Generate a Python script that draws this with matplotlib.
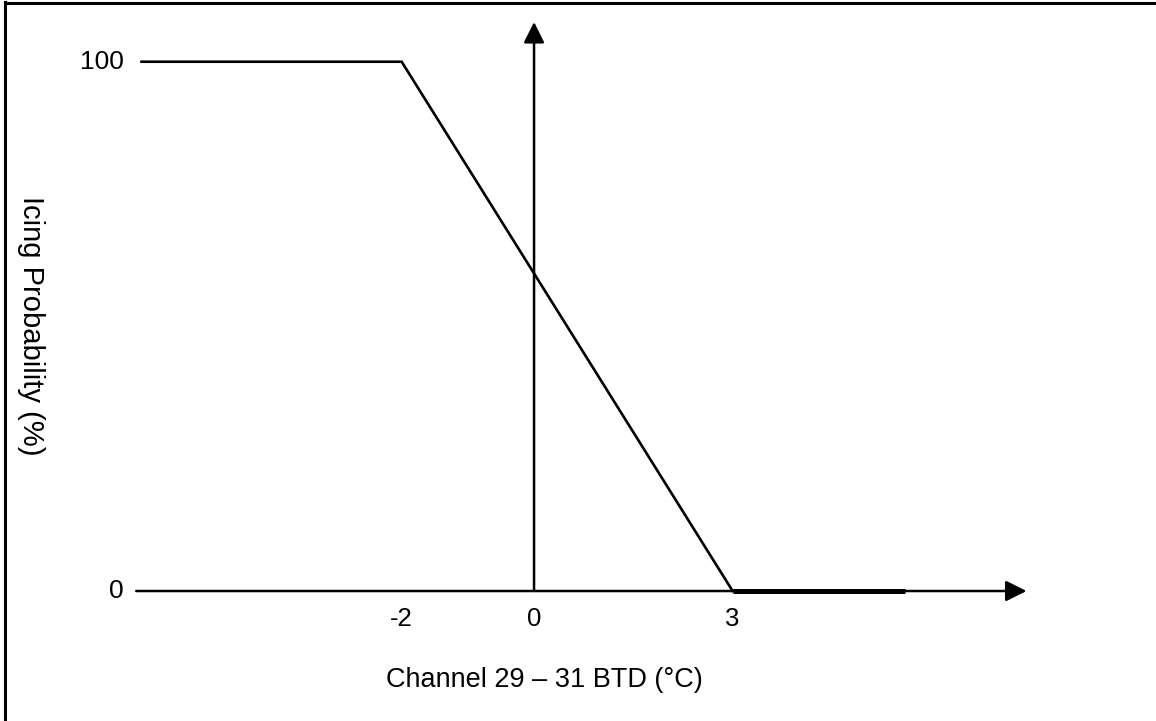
import matplotlib
matplotlib.use("Agg")
import matplotlib.pyplot as plt
from matplotlib.lines import Line2D

# Data
profile_x = [-5.93, -2, 3]
profile_y = [100, 100, 0]
zero_x = [3, 5.6]
zero_y = [0, 0]
x_tick_vals = [-2, 0, 3]
x_tick_labels = ["-2", "0", "3"]
y_tick_vals = [0, 100]
y_tick_labels = ["0", "100"]
x_axis_range = [-6.01, 7.44]
y_axis_range = [0, 107.5]

plt.rcParams['font.family'] = ['Liberation Sans', 'DejaVu Sans']

fig = plt.figure(figsize=(11.56, 7.21), dpi=100)
ax = fig.add_axes([0, 0, 1, 1])
ax.set_xlim(-8.068, 9.396)
ax.set_ylim(-24.56, 111.66)
ax.axis('off')

# frame (left and top only)
fig.add_artist(Line2D([5/1156, 5/1156], [0, 1 - 2/721], transform=fig.transFigure, color='black', lw=2.2))
fig.add_artist(Line2D([5/1156, 1], [1 - 3/721, 1 - 3/721], transform=fig.transFigure, color='black', lw=2.2))

arrow = dict(arrowstyle='-|>,head_length=0.9,head_width=0.45', lw=1.8, color='black',
             mutation_scale=14, shrinkA=0, shrinkB=0)
ax.annotate('', xy=(x_axis_range[1], 0), xytext=(x_axis_range[0], 0), arrowprops=arrow)
ax.annotate('', xy=(0, y_axis_range[1]), xytext=(0, y_axis_range[0]), arrowprops=arrow)

ax.plot(profile_x, profile_y, color='black', lw=1.9, solid_joinstyle='miter')
ax.plot(zero_x, zero_y, color='black', lw=3.6, solid_capstyle='butt')

for v, t in zip(x_tick_vals, x_tick_labels):
    ax.text(v, -5.3, t, ha='center', va='center', fontsize=18.5)
for v, t in zip(y_tick_vals, y_tick_labels):
    ax.text(-6.2, v, t, ha='right', va='center', fontsize=19)

ax.text(0.15, -16.8, "Channel 29 \u2013 31 BTD (\u00b0C)", ha='center', va='center', fontsize=19.5)
ax.text(-7.6, 50.1, "Icing Probability (%)", ha='center', va='center', fontsize=21, rotation=-90)

fig.savefig("out.png", dpi=100, facecolor='white')
